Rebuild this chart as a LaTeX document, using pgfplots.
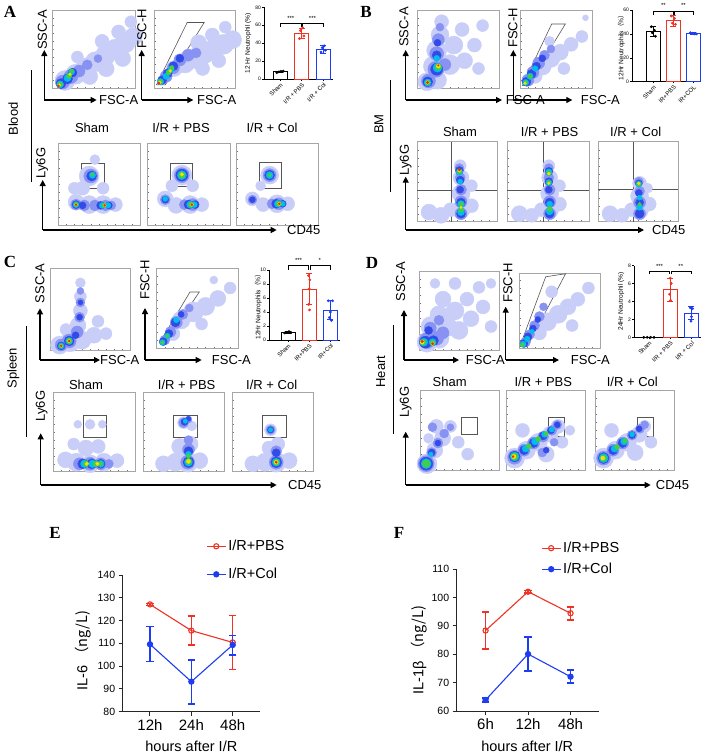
\documentclass[border=0pt]{standalone}
\usepackage{fontspec}
\setmainfont{Liberation Sans}
\newfontfamily\tnr{Liberation Serif}
\newfontfamily\cjk{Noto Sans CJK SC}
\usepackage{pgfplots}
\pgfplotsset{compat=1.18}
\usetikzlibrary{arrows.meta}

\definecolor{pbsred}{RGB}{238,50,36}
\definecolor{colblue}{RGB}{30,60,240}
\definecolor{gategray}{RGB}{85,85,85}

\newcommand{\lab}{\fontsize{13}{15}\selectfont}
\newcommand{\panel}{\fontsize{17}{19}\selectfont\tnr\bfseries}
\newcommand{\tinyf}{\fontsize{5}{6}\selectfont}

\pgfplotsset{
 table/row sep=\\,
 colormap={flowmap}{rgb255=(200,206,247) rgb255=(135,146,242) rgb255=(50,75,232) rgb255=(0,190,235) rgb255=(70,205,70) rgb255=(245,225,0) rgb255=(235,40,20)},
 flow/.style={scale only axis, anchor=north west, xmin=0,xmax=100,ymin=0,ymax=100,
   axis line style={black!35, line width=0.5pt}, tick pos=left,
   xtick={10,20,...,90}, ytick={10,20,...,90}, xticklabels={}, yticklabels={},
   tick align=inside, major tick length=1.5pt, tick style={black!55, line width=0.4pt},
   colormap name=flowmap, point meta min=0, point meta max=6},
 blob/.style={scatter, only marks, mark=*, point meta=explicit,
   scatter/use mapped color={draw=mapped color, fill=mapped color},
   visualization depends on={\thisrow{s} \as \msize},
   scatter/@pre marker code/.append style={/tikz/mark size=\msize}},
 gate/.style={gategray, line width=0.6pt},
 barax/.style={scale only axis, anchor=north west, axis lines*=left, clip=false, ymin=0,
   xtick={0,1,2}, tick align=outside, major tick length=1.8pt,
   tick style={black, line width=0.5pt}, axis line style={black, line width=0.6pt},
   yticklabel style={font=\tinyf, inner sep=1pt},
   xticklabel style={rotate=45, anchor=north east, font=\fontsize{6}{7}\selectfont, inner sep=1pt},
   ylabel style={font=\fontsize{6.6}{7.5}\selectfont, anchor=center},
   /pgf/number format/assume math mode=true},
 barplot/.style={ybar, bar shift=0pt, bar width=14pt, fill=white, line width=0.8pt, draw=#1,
   error bars/y dir=both, error bars/y explicit,
   error bars/error bar style={line width=0.8pt, #1},
   error bars/error mark options={rotate=90, mark size=3pt, line width=0.8pt, #1}},
 dots/.style={only marks, mark=*, mark size=1.2pt, color=#1},
 bracket/.style={black, line width=0.5pt},
 lineax/.style={scale only axis, anchor=north west, axis lines*=left, clip=false,
   axis line style={line width=1pt, black!85}, tick style={line width=1pt, black!85},
   tick align=outside, major tick length=4pt, xtick={0,1,2},
   yticklabel style={font=\fontsize{10.5}{12}\selectfont},
   xticklabel style={font=\fontsize{15}{17}\selectfont},
   xlabel style={font=\fontsize{14.5}{16}\selectfont, anchor=center},
   ylabel style={font=\fontsize{14.5}{16}\selectfont, anchor=center},
   /pgf/number format/assume math mode=true,
   legend style={draw=none, fill=none, inner sep=0pt, font=\fontsize{14.5}{16}\selectfont},
   legend cell align=left,
   legend image code/.code={\draw[mark repeat=2, mark phase=2, ##1] plot coordinates {(0pt,0pt) (9.5pt,0pt) (19pt,0pt)};}},
 pbsline/.style={pbsred, line width=1.1pt, mark=o, mark size=2.6pt, mark options={line width=1.1pt, fill=white},
   error bars/y dir=both, error bars/y explicit,
   error bars/error bar style={line width=#1},
   error bars/error mark options={rotate=90, mark size=3.6pt, line width=#1}},
 colline/.style={colblue, line width=1.1pt, mark=*, mark size=2.6pt,
   error bars/y dir=both, error bars/y explicit,
   error bars/error bar style={line width=#1},
   error bars/error mark options={rotate=90, mark size=3.6pt, line width=#1}},
}

\begin{document}
\begin{tikzpicture}[x=1pt,y=1pt]
\path (0,0) rectangle (708,-756);

%%%%%%%%%%%%%%%%%%%%%%%% PANEL A
\node[font=\panel] at (10,-12) {A};
\begin{axis}[flow, at={(52.7pt,-10pt)}, width=82.3pt, height=78.3pt]
\addplot[blob] table[meta=c]{x y s c\\
15 10 10 0\\ 28 18 10 0\\ 40 26 10 0\\ 52 34 10 0\\ 64 42 10 0\\ 76 50 10 0\\ 88 58 10 0\\ 98 66 9 0\\ 45 15 8 0\\ 65 25 8 0\\ 85 38 8 0\\ 60 60 7 0\\ 80 72 7 0\\ 95 85 6 0\\ 30 40 6 0\\
12 8 7 1\\ 22 15 7 1\\ 32 22 6 1\\ 42 30 5 1\\ 55 38 4 1\\
10 6 5 2\\ 18 12 5 2\\ 24 20 4.5 2\\
9 5 3.5 3\\ 18 13 3.5 3\\ 23 21 3 3\\
9 5 2.5 4\\ 20 16 2.6 4\\ 23 22 2 4\\
8 4 1.6 5\\ 21 18 1.4 5\\ 7 3 1.1 6\\};
\end{axis}
\begin{axis}[flow, at={(154pt,-10pt)}, width=81pt, height=78pt]
\addplot[blob] table[meta=c]{x y s c\\
25 25 8 0\\ 38 32 10 0\\ 50 38 10 0\\ 62 44 10 0\\ 74 50 10 0\\ 86 56 10 0\\ 97 62 9 0\\ 55 58 8 0\\ 72 68 7 0\\ 88 78 6 0\\ 60 25 7 0\\ 80 35 7 0\\
15 15 6 1\\ 24 26 6 1\\ 32 36 6 1\\ 42 42 6 1\\ 52 45 5 1\\
10 10 4.5 2\\ 17 19 4.5 2\\ 24 28 4.5 2\\ 32 38 4 2\\
8 8 3.2 3\\ 15 15 3.2 3\\ 21 24 3.2 3\\
8 8 2.2 4\\ 18 20 2.6 4\\ 22 26 2.2 4\\
7 7 1.6 5\\ 20 22 1.5 5\\ 6 6 1.2 6\\};
\addplot[gate] coordinates {(3,4) (14,4) (62,84) (41,84) (3,4)};
\end{axis}
\begin{axis}[barax, at={(264pt,-7.3pt)}, width=69pt, height=71.7pt, xmin=-0.74, xmax=2.45, ymax=80,
  ytick={0,20,40,60,80}, xticklabels={Sham, I/R + PBS, I/R + Col},
  ylabel={12 Hr Neutrophil (\%)}, ylabel style={at={(axis description cs:-0.23,0.5)}}]
\addplot[barplot=black] coordinates {(0,8) +- (0,1)};
\addplot[barplot=pbsred] coordinates {(1,51) +- (0,6)};
\addplot[barplot=colblue] coordinates {(2,33) +- (0,4.5)};
\addplot[dots=black] coordinates {(-0.15,7.2) (-0.05,8) (0.05,8.5) (0.15,8.8)};
\addplot[dots=pbsred] coordinates {(0.9,45) (1.1,48) (0.95,54) (1.05,57)};
\addplot[dots=colblue] coordinates {(1.9,30) (2.1,32) (1.95,35) (2.05,37)};
\addplot[bracket] coordinates {(0,58.4) (0,62) (0.97,62) (0.97,58.4)};
\addplot[bracket] coordinates {(1.03,58.4) (1.03,62) (2,62) (2,58.4)};
\node[font=\fontsize{6}{7}\selectfont] at (axis cs:0.5,68) {***};
\node[font=\fontsize{6}{7}\selectfont] at (axis cs:1.5,68) {***};
\end{axis}
% lower row A
\begin{axis}[flow, at={(58pt,-143.3pt)}, width=82pt, height=81.7pt]
\addplot[blob] table[meta=c]{x y s c\\
38 60 10 0\\ 30 45 7 0\\ 22 28 8 0\\ 38 25 9 0\\ 55 25 9 0\\ 70 25 7 0\\ 20 45 6 0\\ 55 45 6 0\\ 45 80 5 0\\
40 60 7 1\\ 22 25 5.5 1\\ 32 24 5.5 1\\ 45 24 5.5 1\\ 58 24 5.5 1\\ 65 24 4.5 1\\
41 60 5 2\\ 22 25 4 2\\ 30 24 3.5 2\\ 52 24 4 2\\ 62 24 3.5 2\\
42 61 3.2 3\\ 22 25 3 3\\ 54 24 3 3\\ 61 24 2.8 3\\
42 62 1.8 4\\ 22 25 2.2 4\\ 56 24 2.2 4\\
22 25 1.5 5\\ 57 24 1.5 5\\ 22 25 1 6\\ 57 24 1 6\\};
\addplot[gate] coordinates {(29,45) (57,45) (57,76) (29,76) (29,45)};
\end{axis}
\begin{axis}[flow, at={(147pt,-143.3pt)}, width=83pt, height=81.7pt]
\addplot[blob] table[meta=c]{x y s c\\
42 61 10 0\\ 22 32 8 0\\ 35 24 8 0\\ 52 25 9 0\\ 66 25 7 0\\ 30 48 6 0\\ 55 48 6 0\\
42 61 7.5 1\\ 22 31 5 1\\ 45 25 5 1\\ 55 25 6 1\\
42 61 6 2\\ 22 31 3.5 2\\ 50 25 4.5 2\\ 58 25 4 2\\
42 61 4.5 3\\ 22 32 2.5 3\\ 52 25 3.5 3\\ 57 25 3 3\\
42 61 3.2 4\\ 53 25 2.6 4\\ 42 62 1.8 5\\ 54 25 1.8 5\\ 54 25 1.1 6\\};
\addplot[gate] coordinates {(28,47) (55,47) (55,75.5) (28,75.5) (28,47)};
\end{axis}
\begin{axis}[flow, at={(236pt,-143.3pt)}, width=82pt, height=81.7pt]
\addplot[blob] table[meta=c]{x y s c\\
41 61 9 0\\ 20 32 7 0\\ 33 25 7 0\\ 50 26 9 0\\ 63 26 7 0\\ 30 48 5 0\\
41 61 6.5 1\\ 20 31 4.5 1\\ 44 26 5 1\\ 52 26 6 1\\
41 61 5 2\\ 20 31 3 2\\ 49 26 4.5 2\\ 57 26 3.5 2\\
41 61 3.5 3\\ 51 26 3.5 3\\ 57 26 2.5 3\\
41 61 1.8 4\\ 52 26 2.6 4\\ 53 26 1.7 5\\ 53 26 1 6\\};
\addplot[gate] coordinates {(28,45) (55.5,45) (55.5,77) (28,77) (28,45)};
\end{axis}
\node[font=\lab, rotate=90] at (42.3,-30) {SSC-A};
\node[font=\lab, anchor=west, inner sep=1pt] at (98,-100) {FSC-A};
\node[font=\lab, rotate=90] at (142,-29) {FSC-H};
\node[font=\lab, anchor=west, inner sep=1pt] at (196,-100) {FSC-A};
\node[font=\lab, rotate=90] at (13.3,-119) {Blood};
\node[font=\lab, rotate=90] at (42.3,-163) {Ly6G};
\node[font=\lab, anchor=west, inner sep=1pt] at (286,-230) {CD45};
\node[font=\lab] at (92,-128) {Sham};
\node[font=\lab] at (181,-128) {I/R + PBS};
\node[font=\lab] at (272,-128) {I/R + Col};
\draw[line width=1.2pt, -{Triangle[length=6pt,width=6pt]}] (44.3,-100) -- (44.3,-50);
\draw[line width=1.2pt, -{Triangle[length=6pt,width=6pt]}] (44.3,-100) -- (96.7,-100);
\draw[line width=1.2pt, -{Triangle[length=6pt,width=6pt]}] (141.7,-100) -- (141.7,-50);
\draw[line width=1.2pt, -{Triangle[length=6pt,width=6pt]}] (141.7,-100) -- (193.3,-100);
\draw[line width=1.2pt, -{Triangle[length=6pt,width=6pt]}] (42.7,-230) -- (42.7,-180);
\draw[line width=1.2pt, -{Triangle[length=6pt,width=6pt]}] (42.7,-230) -- (276.7,-230);
\draw[line width=1pt] (31.7,-70) -- (31.7,-181.7);

%%%%%%%%%%%%%%%%%%%%%%%% PANEL B
\node[font=\panel] at (366,-12) {B};
\begin{axis}[flow, at={(417pt,-10pt)}, width=82pt, height=78pt]
\addplot[blob] table[meta=c]{x y s c\\
12 8 9 0\\ 25 10 9 0\\ 20 28 10 0\\ 24 48 10 0\\ 28 68 9 0\\ 30 85 7 0\\ 40 30 10 0\\ 45 55 9 0\\ 55 75 7 0\\ 58 35 8 0\\ 70 55 7 0\\ 80 80 6 0\\ 75 25 6 0\\
14 9 7 1\\ 23 24 8 1\\ 24 44 7 1\\ 26 62 6 1\\ 34 30 6 1\\ 28 78 4 1\\
13 8 5 2\\ 24 24 6 2\\ 24 42 4.5 2\\ 25 58 3.5 2\\
13 7 3.5 3\\ 25 26 4.5 3\\ 24 38 3 3\\
13 7 2.5 4\\ 26 27 3.2 4\\ 13 7 1.7 5\\ 26 28 2 5\\ 13 7 1.2 6\\ 26 29 0.8 6\\};
\end{axis}
\begin{axis}[flow, at={(520.7pt,-10pt)}, width=72pt, height=78pt]
\addplot[blob] table[meta=c]{x y s c\\
20 15 7 0\\ 30 28 9 0\\ 42 38 9 0\\ 55 46 8 0\\ 70 56 7 0\\ 85 66 6 0\\ 40 60 5 0\\ 60 25 6 0\\ 90 90 3 0\\
10 10 6 1\\ 17 20 6 1\\ 25 32 6 1\\ 33 42 5 1\\ 42 50 4 1\\
8 8 4.5 2\\ 15 18 4.5 2\\ 22 28 4 2\\ 30 38 3.5 2\\
7 7 3 3\\ 13 15 3.2 3\\ 20 25 2.8 3\\
7 7 2 4\\ 13 15 2.2 4\\ 6 6 1.3 5\\};
\addplot[gate] coordinates {(2.4,3) (9.5,3) (62,82) (43,82) (2.4,3)};
\end{axis}
\begin{axis}[barax, at={(632pt,-10pt)}, width=68pt, height=71.7pt, xmin=-1.07, xmax=2.33, ymax=60,
  ytick={0,20,40,60}, xticklabels={Sham, IR+PBS, IR+COL},
  ylabel={12Hr Neutrophils\cjk{（}\%\cjk{）}}, ylabel style={at={(axis description cs:-0.16,0.5)}}]
\addplot[barplot=black] coordinates {(0,42) +- (0,4)};
\addplot[barplot=pbsred] coordinates {(1,51) +- (0,4.5)};
\addplot[barplot=colblue] coordinates {(2,40.5) +- (0,0.8)};
\addplot[dots=black] coordinates {(-0.1,46) (0.05,43) (-0.05,41) (0.1,38)};
\addplot[dots=pbsred] coordinates {(0.9,55) (1.05,53) (0.95,49) (1.1,48)};
\addplot[dots=colblue] coordinates {(1.85,41) (1.95,40.5) (2.05,40) (2.15,40)};
\addplot[bracket] coordinates {(0,55.8) (0,58.6) (0.97,58.6) (0.97,55.8)};
\addplot[bracket] coordinates {(1.03,55.8) (1.03,58.6) (2,58.6) (2,55.8)};
\node[font=\fontsize{6}{7}\selectfont] at (axis cs:0.5,63.5) {**};
\node[font=\fontsize{6}{7}\selectfont] at (axis cs:1.5,63.5) {**};
\end{axis}
% lower row B
\begin{axis}[flow, at={(417pt,-141.7pt)}, width=80pt, height=80pt]
\addplot[blob] table[meta=c]{x y s c\\
15 12 8 0\\ 30 8 8 0\\ 42 15 7 0\\ 55 15 9 0\\ 55 35 9 0\\ 55 55 8 0\\ 54 70 6 0\\ 68 20 7 0\\ 68 45 6 0\\
55 10 6 1\\ 55 25 6 1\\ 55 40 5.5 1\\ 54 55 5 1\\ 53 67 4.5 1\\
55 10 4.5 2\\ 55 24 4.5 2\\ 54 40 3.5 2\\ 54 52 4 2\\ 53 64 4 2\\
55 12 3.5 3\\ 55 22 3.5 3\\ 53 62 3.2 3\\ 54 50 2.5 3\\
55 15 2.5 4\\ 55 22 2.2 4\\ 53 63 2.5 4\\
53 64 1.8 5\\ 55 18 1.2 5\\ 53 65 1.3 6\\};
\addplot[gate] coordinates {(43,0) (43,100)};
\addplot[gate] coordinates {(0,39) (100,39)};
\end{axis}
\begin{axis}[flow, at={(507pt,-141.7pt)}, width=82pt, height=80pt]
\addplot[blob] table[meta=c]{x y s c\\
15 10 8 0\\ 30 8 7 0\\ 42 15 7 0\\ 52 15 9 0\\ 52 35 9 0\\ 52 55 8 0\\ 51 70 6 0\\ 64 22 7 0\\ 64 45 6 0\\
52 10 6 1\\ 52 25 6 1\\ 52 40 5.5 1\\ 51 55 5 1\\ 51 67 4.5 1\\
52 10 4.5 2\\ 52 24 4.5 2\\ 51 40 3.5 2\\ 51 50 4 2\\ 51 63 4 2\\
52 13 3.5 3\\ 52 22 3 3\\ 51 49 3 3\\ 51 62 3.2 3\\
52 16 2.5 4\\ 51 49 2 4\\ 51 61 2.3 4\\ 51 60 1.5 5\\ 51 48 1.3 5\\};
\addplot[gate] coordinates {(44,0) (44,100)};
\addplot[gate] coordinates {(0,39) (100,39)};
\end{axis}
\begin{axis}[flow, at={(598pt,-141.7pt)}, width=80pt, height=80pt]
\addplot[blob] table[meta=c]{x y s c\\
15 10 8 0\\ 30 8 7 0\\ 42 15 7 0\\ 52 15 9 0\\ 52 32 9 0\\ 52 48 7 0\\ 64 22 7 0\\ 62 42 5 0\\
52 10 6 1\\ 52 24 6 1\\ 52 38 5 1\\ 51 50 4.5 1\\
52 10 4.5 2\\ 52 24 4 2\\ 51 36 3.5 2\\ 51 48 3.5 2\\
52 18 3 3\\ 52 30 2.5 3\\ 51 47 3 3\\
51 47 2.2 4\\ 52 22 1.8 4\\ 51 48 1.4 5\\};
\addplot[gate] coordinates {(43.5,0) (43.5,100)};
\addplot[gate] coordinates {(0,40) (100,40)};
\end{axis}
\node[font=\lab, rotate=90] at (404,-27) {SSC-A};
\node[font=\lab, anchor=west, inner sep=1pt] at (504.7,-100) {FSC-A};
\node[font=\lab, rotate=90] at (513,-28) {FSC-H};
\node[font=\lab, anchor=west, inner sep=1pt] at (579.7,-100) {FSC-A};
\node[font=\lab, rotate=90] at (379,-124) {BM};
\node[font=\lab, rotate=90] at (405.7,-160) {Ly6G};
\node[font=\lab, anchor=west, inner sep=1pt] at (651,-230) {CD45};
\node[font=\lab] at (460,-131.7) {Sham};
\node[font=\lab] at (549.7,-131.7) {I/R + PBS};
\node[font=\lab] at (635.7,-131.7) {I/R + Col};
\draw[line width=1.2pt, -{Triangle[length=6pt,width=6pt]}] (405.7,-100) -- (405.7,-50);
\draw[line width=1.2pt, -{Triangle[length=6pt,width=6pt]}] (405.7,-100) -- (502,-100);
\draw[line width=1.2pt, -{Triangle[length=6pt,width=6pt]}] (513.3,-100) -- (513.3,-50);
\draw[line width=1.2pt, -{Triangle[length=6pt,width=6pt]}] (513.3,-100) -- (572.3,-100);
\draw[line width=1.2pt, -{Triangle[length=6pt,width=6pt]}] (405.7,-230) -- (405.7,-176.7);
\draw[line width=1.2pt, -{Triangle[length=6pt,width=6pt]}] (405.7,-230) -- (644,-230);
\draw[line width=1pt] (390.7,-80) -- (390.7,-191.7);

%%%%%%%%%%%%%%%%%%%%%%%% PANEL C
\node[font=\panel] at (10,-262) {C};
\begin{axis}[flow, at={(50pt,-268pt)}, width=80pt, height=82pt]
\addplot[blob] table[meta=c]{x y s c\\
12 6 9 0\\ 25 10 10 0\\ 40 12 9 0\\ 55 18 8 0\\ 35 30 8 0\\ 38 48 7 0\\ 38 65 6 0\\ 38 82 5 0\\ 60 35 6 0\\ 70 20 6 0\\ 20 25 6 0\\
14 6 6 1\\ 24 11 7 1\\ 34 22 6 1\\ 37 40 5 1\\ 38 58 4.5 1\\ 38 72 3.5 1\\
14 5 4 2\\ 24 11 5 2\\ 32 18 3.5 2\\ 37 40 3 2\\ 38 58 2.5 2\\
14 5 3 3\\ 24 11 3.5 3\\ 14 5 2 4\\ 24 11 2.6 4\\
14 5 1.4 5\\ 24 11 1.8 5\\ 14 5 1 6\\ 24 11 1.1 6\\};
\end{axis}
\begin{axis}[flow, at={(156.7pt,-268pt)}, width=81.6pt, height=80pt]
\addplot[blob] table[meta=c]{x y s c\\
20 18 7 0\\ 30 35 9 0\\ 45 45 10 0\\ 60 52 9 0\\ 75 62 8 0\\ 90 75 6 0\\ 55 30 6 0\\ 70 85 4 0\\
10 10 5 1\\ 17 20 5.5 1\\ 24 32 6 1\\ 32 42 5 1\\ 40 50 4 1\\
8 8 4 2\\ 15 18 4 2\\ 23 32 4.5 2\\ 30 42 3 2\\
7 7 2.8 3\\ 13 15 2.8 3\\ 24 35 2.8 3\\ 7 7 1.8 4\\ 13 15 1.8 4\\};
\addplot[gate] coordinates {(3.3,6.3) (10.2,6.3) (52.2,70) (40.8,70) (3.3,6.3)};
\end{axis}
\begin{axis}[barax, at={(269pt,-270pt)}, width=71pt, height=70pt, xmin=-0.89, xmax=2.45, ymax=10,
  ytick={0,2,4,6,8,10}, xticklabels={Sham, IR+PBS, IR+Col},
  ylabel={12Hr Neutrophils\cjk{（}\%\cjk{）}}, ylabel style={at={(axis description cs:-0.15,0.5)}}]
\addplot[barplot=black] coordinates {(0,1.1) +- (0,0.15)};
\addplot[barplot=pbsred] coordinates {(1,7.3) +- (0,2.2)};
\addplot[barplot=colblue] coordinates {(2,4.3) +- (0,1.4)};
\addplot[dots=black] coordinates {(-0.15,1.0) (-0.05,1.1) (0.05,1.2) (0.15,1.05)};
\addplot[dots=pbsred] coordinates {(0.97,9.2) (1.03,8.6) (1.0,7.3) (0.98,5.1) (1.02,4.3)};
\addplot[dots=colblue] coordinates {(1.9,5.6) (2.1,5.6) (2.0,4.0) (1.95,3.2) (2.05,2.8)};
\addplot[bracket] coordinates {(0,10.0) (0,10.7) (0.97,10.7) (0.97,10.0)};
\addplot[bracket] coordinates {(1.03,10.0) (1.03,10.7) (2,10.7) (2,10.0)};
\node[font=\fontsize{6}{7}\selectfont] at (axis cs:0.5,11.4) {***};
\node[font=\fontsize{6}{7}\selectfont] at (axis cs:1.5,11.4) {*};
\end{axis}
% lower row C
\begin{axis}[flow, at={(53.3pt,-392.7pt)}, width=81.7pt, height=79pt]
\addplot[blob] table[meta=c]{x y s c\\
15 15 8 0\\ 28 12 9 0\\ 45 10 9 0\\ 62 12 9 0\\ 78 14 7 0\\ 40 30 8 0\\ 55 32 7 0\\ 25 35 6 0\\ 45 60 5 0\\ 60 60 4 0\\ 30 60 4 0\\
32 10 6 1\\ 45 10 6.5 1\\ 58 10 6 1\\ 68 10 4.5 1\\
36 10 5 2\\ 47 10 5 2\\ 58 10 4.5 2\\
38 10 3.8 3\\ 48 10 3.8 3\\ 58 10 3.5 3\\
40 10 2.8 4\\ 52 10 2.8 4\\ 58 10 2.2 4\\ 41 10 1.8 5\\ 54 10 1.8 5\\};
\addplot[gate] coordinates {(36.7,43) (65.3,43) (65.3,72) (36.7,72) (36.7,43)};
\end{axis}
\begin{axis}[flow, at={(143.3pt,-392.7pt)}, width=80.7pt, height=79pt]
\addplot[blob] table[meta=c]{x y s c\\
25 10 8 0\\ 40 12 9 0\\ 55 12 10 0\\ 70 14 8 0\\ 45 32 8 0\\ 58 35 8 0\\ 50 62 6 0\\ 60 58 5 0\\
55 12 7 1\\ 56 28 6 1\\ 56 40 4.5 1\\ 50 62 5 1\\ 56 66 3.5 1\\
56 12 5.5 2\\ 56 26 4.5 2\\ 51 63 3.5 2\\ 56 67 2.5 2\\
56 12 4 3\\ 56 22 3 3\\ 52 64 2.2 3\\
56 13 3 4\\ 56 20 2 4\\ 56 13 2 5\\};
\addplot[gate] coordinates {(37,43) (67,43) (67,72) (37,72) (37,43)};
\end{axis}
\begin{axis}[flow, at={(232.7pt,-392.7pt)}, width=80.6pt, height=79pt]
\addplot[blob] table[meta=c]{x y s c\\
25 10 8 0\\ 40 12 9 0\\ 54 12 10 0\\ 70 14 8 0\\ 45 30 7 0\\ 56 35 7 0\\ 47 53 6 0\\
54 12 7 1\\ 54 26 5.5 1\\ 47 53 4.5 1\\
54 12 5.5 2\\ 54 24 4 2\\ 47 53 3.2 2\\
54 12 4 3\\ 47 53 2.2 3\\ 54 12 3 4\\ 54 12 2 5\\ 54 12 1.2 6\\};
\addplot[gate] coordinates {(37,43) (66,43) (66,72) (37,72) (37,43)};
\end{axis}
\node[font=\lab, rotate=90] at (40,-283.3) {SSC-A};
\node[font=\lab, anchor=west, inner sep=1pt] at (99,-360) {FSC-A};
\node[font=\lab, rotate=90] at (145,-280) {FSC-H};
\node[font=\lab, anchor=west, inner sep=1pt] at (210.7,-360) {FSC-A};
\node[font=\lab, rotate=90] at (13.3,-368.3) {Spleen};
\node[font=\lab, rotate=90] at (41.7,-406) {Ly6G};
\node[font=\lab, anchor=west, inner sep=1pt] at (287,-485) {CD45};
\node[font=\lab] at (86,-385) {Sham};
\node[font=\lab] at (186.7,-385) {I/R + PBS};
\node[font=\lab] at (271.7,-385) {I/R + Col};
\draw[line width=1.2pt, -{Triangle[length=6pt,width=6pt]}] (40,-360) -- (40,-308.3);
\draw[line width=1.2pt, -{Triangle[length=6pt,width=6pt]}] (40,-360) -- (100,-360);
\draw[line width=1.2pt, -{Triangle[length=6pt,width=6pt]}] (145,-360) -- (145,-308);
\draw[line width=1.2pt, -{Triangle[length=6pt,width=6pt]}] (145,-360) -- (201.7,-360);
\draw[line width=1.2pt, -{Triangle[length=6pt,width=6pt]}] (40.7,-485) -- (40.7,-433.3);
\draw[line width=1.2pt, -{Triangle[length=6pt,width=6pt]}] (40.7,-485) -- (276.7,-485);
\draw[line width=1pt] (26,-326) -- (26,-436.7);

%%%%%%%%%%%%%%%%%%%%%%%% PANEL D
\node[font=\panel] at (372,-263) {D};
\begin{axis}[flow, at={(419pt,-271.7pt)}, width=80pt, height=78.3pt]
\addplot[blob] table[meta=c]{x y s c\\
10 10 10 0\\ 25 15 10 0\\ 15 30 10 0\\ 35 30 10 0\\ 25 45 9 0\\ 50 25 9 0\\ 45 50 9 0\\ 65 40 8 0\\ 30 65 8 0\\ 60 65 7 0\\ 80 55 7 0\\ 75 80 6 0\\ 45 85 6 0\\ 90 30 6 0\\ 20 85 5 0\\ 90 85 5 0\\
10 12 8 1\\ 22 15 7 1\\ 14 28 6 1\\ 30 22 6 1\\ 25 38 5 1\\
8 10 6 2\\ 18 12 5 2\\ 12 25 4 2\\
6 10 4 3\\ 17 10 3.5 3\\ 5 10 3 4\\ 17 9 2.6 4\\
4 10 2 5\\ 17 8 1.8 5\\ 4 11 1.3 6\\ 17 8 1.2 6\\};
\end{axis}
\begin{axis}[flow, at={(519pt,-273pt)}, width=81.7pt, height=75pt]
\addplot[blob] table[meta=c]{x y s c\\
25 20 7 0\\ 35 35 9 0\\ 48 45 9 0\\ 60 55 8 0\\ 72 65 7 0\\ 85 80 6 0\\ 40 75 6 0\\ 65 30 6 0\\
8 8 5 1\\ 13 18 5 1\\ 19 30 5 1\\ 25 42 5 1\\ 30 55 4 1\\
6 6 4 2\\ 11 15 4 2\\ 17 26 3.5 2\\ 23 38 3 2\\
5 5 3 3\\ 10 12 2.8 3\\ 16 22 2.2 3\\ 4 4 2 4\\};
\addplot[gate] coordinates {(1,2) (10.2,2) (57,99) (32.7,95) (1,2)};
\end{axis}
\begin{axis}[barax, at={(634pt,-265.5pt)}, width=67pt, height=71.8pt, xmin=-0.7, xmax=2.45, ymax=8,
  ytick={0,2,4,6,8}, xticklabels={Sham, I/R + PBS, I/R + Col},
  ylabel={24Hr Neutrophil (\%)}, ylabel style={at={(axis description cs:-0.19,0.5)}}]
\addplot[barplot=black] coordinates {(0,0) +- (0,0)};
\addplot[barplot=pbsred] coordinates {(1,5.3) +- (0,1.3)};
\addplot[barplot=colblue] coordinates {(2,2.7) +- (0,0.7)};
\addplot[dots=black] coordinates {(-0.24,0) (-0.08,0) (0.08,0) (0.24,0)};
\addplot[dots=pbsred] coordinates {(1.0,6.6) (1.05,6.0) (0.97,4.8) (1.02,4.1)};
\addplot[dots=colblue] coordinates {(1.95,3.3) (2.05,3.2) (2.0,2.3) (1.98,1.8)};
\addplot[bracket] coordinates {(0,7.0) (0,7.34) (0.97,7.34) (0.97,7.0)};
\addplot[bracket] coordinates {(1.03,7.0) (1.03,7.34) (2,7.34) (2,7.0)};
\node[font=\fontsize{6}{7}\selectfont] at (axis cs:0.5,7.9) {***};
\node[font=\fontsize{6}{7}\selectfont] at (axis cs:1.5,7.9) {**};
\end{axis}
% lower row D
\begin{axis}[flow, at={(420.7pt,-390.7pt)}, width=78.3pt, height=79.3pt]
\addplot[blob] table[meta=c]{x y s c\\
8 8 10 0\\ 18 25 8 0\\ 28 40 8 0\\ 20 55 7 0\\ 38 55 6 0\\ 48 35 6 0\\ 60 20 6 0\\ 10 40 5 0\\
7 8 8 1\\ 14 22 5 1\\ 22 34 5 1\\ 30 46 4.5 1\\ 15 54 4.5 1\\ 38 54 3.5 1\\
7 8 6.5 2\\ 14 22 3.5 2\\ 22 34 3 2\\ 7 8 5 3\\ 13 20 2.2 3\\ 7 8 3.8 4\\};
\addplot[gate] coordinates {(52,45) (72,45) (72,67) (52,67) (52,45)};
\end{axis}
\begin{axis}[flow, at={(506.7pt,-390.7pt)}, width=79pt, height=79.3pt]
\addplot[blob] table[meta=c]{x y s c\\
10 15 10 0\\ 25 25 9 0\\ 40 35 9 0\\ 55 45 8 0\\ 65 55 7 0\\ 20 50 7 0\\ 50 20 8 0\\ 70 35 6 0\\ 80 50 5 0\\
10 16 7 1\\ 22 25 6 1\\ 34 34 6 1\\ 46 42 5.5 1\\ 57 50 5 1\\ 64 57 4.5 1\\ 45 22 4.5 1\\ 60 35 4 1\\
10 17 5.5 2\\ 22 25 4.5 2\\ 34 34 4.5 2\\ 46 43 4 2\\ 56 50 3.5 2\\ 64 57 3 2\\ 50 25 3 2\\
10 17 4.5 3\\ 24 27 3.5 3\\ 36 36 3.5 3\\ 48 45 3 3\\ 57 51 2.5 3\\
10 17 3.5 4\\ 28 30 2.5 4\\ 40 39 2.5 4\\ 50 46 2 4\\ 9 17 2.2 5\\ 8 17 1 6\\};
\addplot[gate] coordinates {(53,43) (73,43) (73,66) (53,66) (53,43)};
\end{axis}
\begin{axis}[flow, at={(595.7pt,-390.7pt)}, width=79pt, height=79.3pt]
\addplot[blob] table[meta=c]{x y s c\\
10 15 10 0\\ 25 25 9 0\\ 40 35 9 0\\ 55 45 8 0\\ 62 55 6 0\\ 20 50 7 0\\ 50 22 8 0\\ 70 35 6 0\\
10 15 7 1\\ 22 25 6 1\\ 34 34 6 1\\ 46 44 5 1\\ 56 52 4.5 1\\ 62 57 4 1\\
10 15 5.5 2\\ 22 25 4.5 2\\ 34 34 4.5 2\\ 46 44 3.5 2\\ 55 52 3 2\\
10 15 4.5 3\\ 24 27 3.5 3\\ 36 36 3.5 3\\ 46 45 2.5 3\\
10 15 3.2 4\\ 27 29 2.5 4\\ 37 37 2.2 4\\ 9 15 2 5\\};
\addplot[gate] coordinates {(53,43) (73,43) (73,66) (53,66) (53,43)};
\end{axis}
\node[font=\lab, rotate=90] at (400.7,-281.7) {SSC-A};
\node[font=\lab, anchor=west, inner sep=1pt] at (464.7,-360) {FSC-A};
\node[font=\lab, rotate=90] at (508,-283) {FSC-H};
\node[font=\lab, anchor=west, inner sep=1pt] at (569.7,-360) {FSC-A};
\node[font=\lab, rotate=90] at (380.7,-371.7) {Heart};
\node[font=\lab, rotate=90] at (405.7,-402) {Ly6G};
\node[font=\lab, anchor=west, inner sep=1pt] at (654.7,-485) {CD45};
\node[font=\lab] at (449.7,-381.7) {Sham};
\node[font=\lab] at (543.3,-381.7) {I/R + PBS};
\node[font=\lab] at (632.3,-381.7) {I/R + Col};
\draw[line width=1.2pt, -{Triangle[length=6pt,width=6pt]}] (404,-360) -- (404,-310);
\draw[line width=1.2pt, -{Triangle[length=6pt,width=6pt]}] (404,-360) -- (459,-360);
\draw[line width=1.2pt, -{Triangle[length=6pt,width=6pt]}] (505.7,-360) -- (505.7,-306.7);
\draw[line width=1.2pt, -{Triangle[length=6pt,width=6pt]}] (505.7,-360) -- (559,-360);
\draw[line width=1.2pt, -{Triangle[length=6pt,width=6pt]}] (405.7,-485) -- (405.7,-431.7);
\draw[line width=1.2pt, -{Triangle[length=6pt,width=6pt]}] (405.7,-485) -- (650.7,-485);
\draw[line width=1pt] (393.3,-325) -- (393.3,-434);

%%%%%%%%%%%%%%%%%%%%%%%% PANEL E
\node[font=\panel] at (55,-533) {E};
\begin{axis}[lineax, at={(122.7pt,-575pt)}, width=137.3pt, height=136.7pt,
  xmin=-0.66, xmax=2.66, ymin=80, ymax=140, ytick={80,90,...,140},
  xticklabels={12h,24h,48h}, xlabel={hours after I/R}, ylabel={IL-6 \cjk{（}ng/L)},
  xlabel style={at={(axis description cs:0.5,-0.256)}},
  ylabel style={at={(axis description cs:-0.29,0.446)}},
  legend style={at={(axis description cs:0.607,1.27)}, anchor=north west, row sep=12pt}]
\addplot[pbsline=1.1pt] coordinates {(0,127.1) +- (0,0.4) (1,115.6) += (0,6.4) -= (0,6.3) (2,110.4) +- (0,11.7)};
\addlegendentry{I/R+PBS}
\addplot[colline=1.1pt] coordinates {(0,109.6) += (0,7.7) -= (0,7.6) (1,93.2) += (0,9.5) -= (0,9.8) (2,109.3) += (0,4.1) -= (0,4.4)};
\addlegendentry{I/R+Col}
\end{axis}

%%%%%%%%%%%%%%%%%%%%%%%% PANEL F
\node[font=\panel] at (399,-533) {F};
\begin{axis}[lineax, at={(456.7pt,-569.3pt)}, width=142.3pt, height=141.7pt,
  xmin=-0.68, xmax=2.67, ymin=60, ymax=110, ytick={60,70,...,110},
  xticklabels={6h,12h,48h}, xlabel={hours after I/R}, ylabel={IL-1β \cjk{（}ng/L)},
  xlabel style={at={(axis description cs:0.496,-0.252)}},
  ylabel style={at={(axis description cs:-0.265,0.43)}},
  legend style={at={(axis description cs:0.592,1.207)}, anchor=north west, row sep=5pt}]
\addplot[pbsline=1.8pt] coordinates {(0,88.4) += (0,6.4) -= (0,6.5) (1,102.1) +- (0,0.4) (2,94.5) += (0,2.3) -= (0,2.4)};
\addlegendentry{I/R+PBS}
\addplot[colline=1.8pt] coordinates {(0,63.9) +- (0,0.7) (1,80.1) += (0,6.1) -= (0,6.0) (2,72.1) += (0,2.4) -= (0,2.3)};
\addlegendentry{I/R+Col}
\end{axis}
\end{tikzpicture}
\end{document}
